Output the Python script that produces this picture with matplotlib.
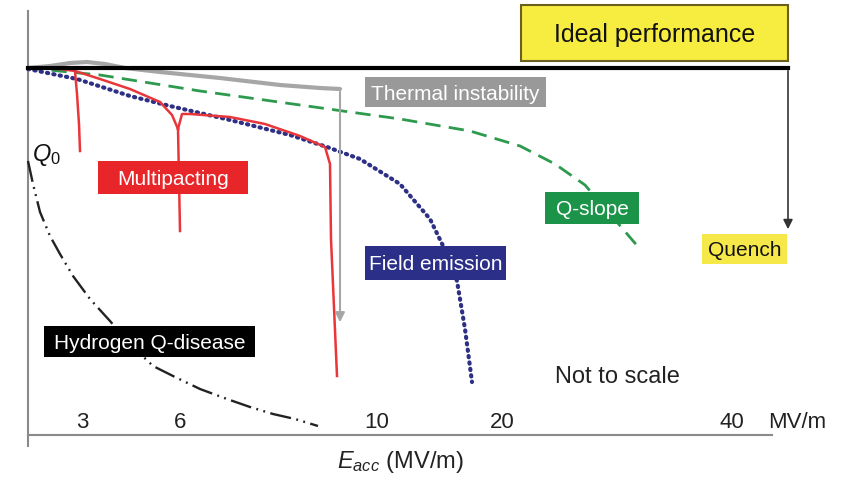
import matplotlib
matplotlib.use("Agg")
import matplotlib.pyplot as plt
from matplotlib.patches import Rectangle

plt.rcParams['font.family'] = ['Liberation Sans', 'DejaVu Sans']
plt.rcParams['mathtext.fontset'] = 'custom'
plt.rcParams['mathtext.rm'] = 'Liberation Sans'
plt.rcParams['mathtext.it'] = 'Liberation Sans:italic'

# schematic curves, in picture units (x to the right, y downward)
ideal_y = 69
axis_x0, axis_x1 = 28, 788

thermal_x = [28, 50, 70, 87, 105, 125, 160, 220, 280, 320, 340]
thermal_y = [69, 67, 64, 63, 65, 69, 73, 79, 86, 89, 90]
thermal_drop_end = 326

qslope_x = [28, 100, 200, 300, 400, 470, 520, 555, 585, 610, 640]
qslope_y = [69, 76, 92, 106, 120, 132, 147, 165, 186, 215, 250]

field_x = [28, 77, 130, 170, 230, 290, 327, 360, 400, 430, 447, 457, 465, 472]
field_y = [70, 80, 97, 107, 121, 136, 148, 160, 185, 220, 255, 282, 330, 383]

multi_main_x = [28, 60, 75, 100, 130, 160, 172, 178]
multi_main_y = [69, 70, 72, 80, 90, 103, 116, 130]
multi_spike1_x = [75, 77, 79, 80]
multi_spike1_y = [72, 95, 125, 152]
multi_spike2_x = [178, 179, 180]
multi_spike2_y = [130, 180, 232]
multi_tail_x = [178, 182, 190, 230, 265, 300, 325, 330, 331, 337]
multi_tail_y = [130, 115, 115, 118, 125, 137, 148, 165, 240, 377]

hydrogen_x = [28, 33, 40, 50, 60, 73, 90, 110, 130, 153, 175, 200, 227, 250, 273, 295, 318]
hydrogen_y = [162, 185, 213, 237, 255, 277, 300, 322, 345, 367, 378, 390, 400, 408, 415, 420, 427]

quench_end = 233

tick_labels = ['3', '6', '10', '20', '40']
tick_pos = [82, 180, 377, 502, 732]

fig = plt.figure(figsize=(8.56, 4.81), dpi=100)
ax = fig.add_axes([0, 0, 1, 1])
ax.set_xlim(0, 856)
ax.set_ylim(481, 0)
ax.axis('off')

# frame
ax.plot([28, 28], [12, 447], color='#8a8a8a', lw=1.5)
ax.plot([28, 772], [436, 436], color='#8a8a8a', lw=1.5)

# curves
ax.plot(thermal_x, thermal_y, color='#a6a6a6', lw=3, solid_capstyle='round',
        solid_joinstyle='round')
ax.annotate('', xy=(thermal_x[-1], thermal_drop_end), xytext=(thermal_x[-1], thermal_y[-1]),
            arrowprops=dict(arrowstyle='-|>', color='#a6a6a6', lw=1.5, mutation_scale=14))

ax.plot(hydrogen_x, hydrogen_y, color='#222222', lw=1.7,
        ls=(0, (9, 2.3, 0.8, 2.3, 0.8, 2.3)))
ax.plot(qslope_x, qslope_y, color='#2d9a4e', lw=2, ls=(0, (5.5, 3)))
ax.plot(field_x, field_y, color='#2d3085', lw=3, ls=(0, (0.3, 1.25)), dash_capstyle='round')

for xs, ys in [(multi_main_x, multi_main_y), (multi_spike1_x, multi_spike1_y),
               (multi_spike2_x, multi_spike2_y), (multi_tail_x, multi_tail_y)]:
    ax.plot(xs, ys, color='#e8363a', lw=1.8, solid_joinstyle='round')

ax.plot([axis_x0, axis_x1], [ideal_y, ideal_y], color='black', lw=3)
ax.annotate('', xy=(axis_x1, quench_end), xytext=(axis_x1, ideal_y),
            arrowprops=dict(arrowstyle='-|>', color='#333333', lw=1.2, mutation_scale=14))

# labelled boxes
boxes = [
    ('Ideal performance', 521, 6, 788, 62, '#f7ec40', '#111111', '#6b5f1e', 18),
    ('Thermal instability', 365, 78, 546, 108, '#999999', 'white', 'none', 15),
    ('Multipacting', 98, 162, 248, 195, '#e8262a', 'white', 'none', 15),
    ('Q-slope', 545, 193, 639, 225, '#1b9449', 'white', 'none', 15),
    ('Field emission', 365, 247, 506, 281, '#2b2f88', 'white', 'none', 15),
    ('Hydrogen Q-disease', 44, 327, 255, 358, 'black', 'white', 'none', 15),
    ('Quench', 702, 235, 787, 265, '#f7e84a', '#111111', 'none', 15),
]
for text, x0, y0, x1, y1, face, tc, edge, fs in boxes:
    ax.add_patch(Rectangle((x0, y0), x1 - x0, y1 - y0, facecolor=face,
                           edgecolor=edge, lw=1.5, zorder=5))
    ax.text((x0 + x1) / 2, (y0 + y1) / 2 + 1, text, color=tc, fontsize=fs,
            ha='center', va='center', zorder=6)

ax.text(32, 155, r'$Q_0$', fontsize=17, ha='left', va='center', color='#111111')
ax.text(617, 377, 'Not to scale', fontsize=17, ha='center', va='center', color='#222222')

for lab, xp in zip(tick_labels, tick_pos):
    ax.text(xp, 423, lab, fontsize=16, ha='center', va='center', color='#222222')
ax.text(768, 423, 'MV/m', fontsize=16, ha='left', va='center', color='#222222')
ax.text(400, 462, r'$E_{acc}$ (MV/m)', fontsize=17, ha='center', va='center', color='#222222')

fig.savefig('out.png', dpi=100)
